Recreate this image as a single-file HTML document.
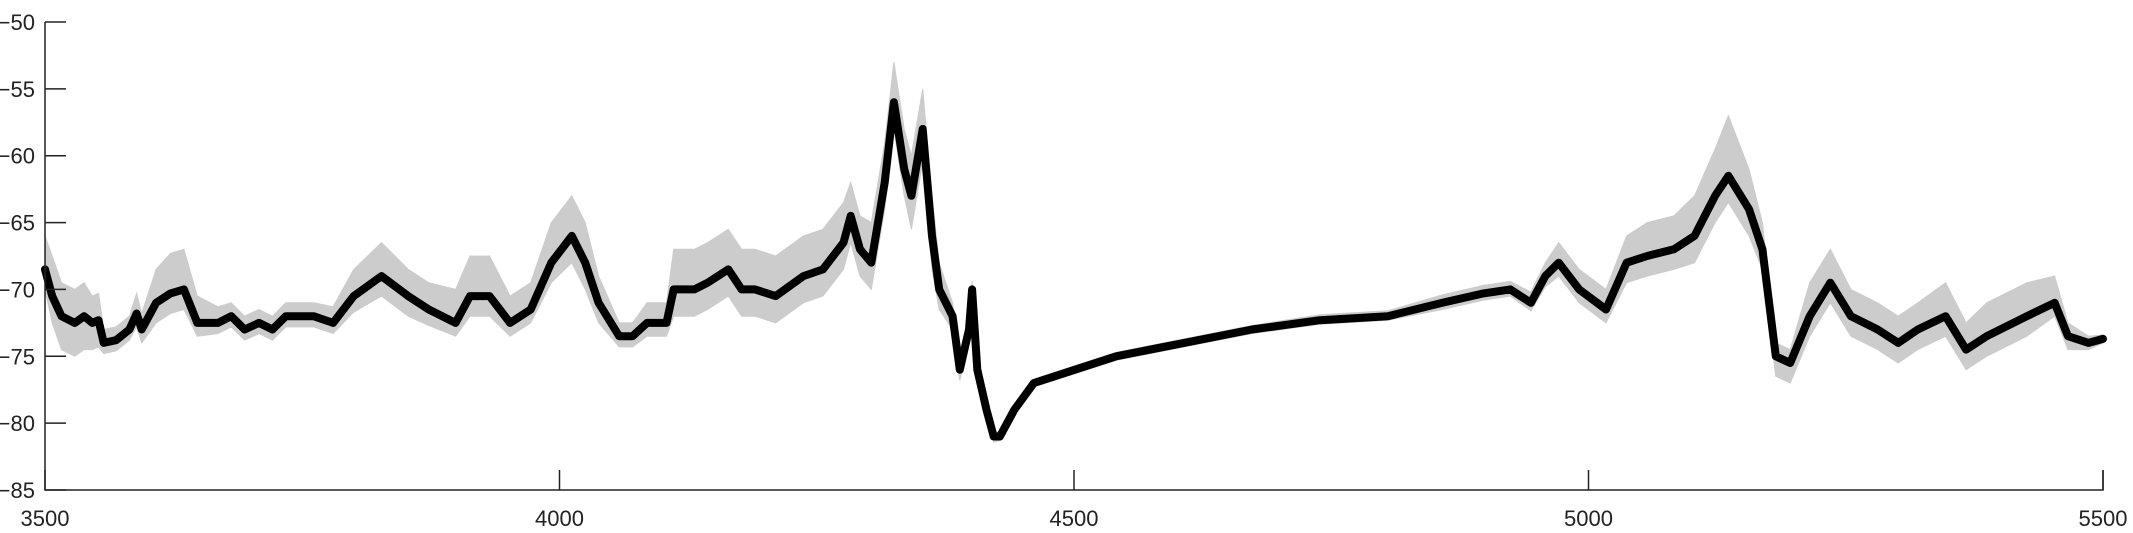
<!DOCTYPE html>
<html><head><meta charset="utf-8"><style>
html,body{margin:0;padding:0;background:#fff;}
svg{display:block;font-family:"Liberation Sans",sans-serif;}
</style></head><body>
<svg id="chart" width="2133" height="533" viewBox="0 0 2133 533">
<g id="band"></g>
<g id="line"></g>
<g id="axes"></g>
</svg>
<script>
const xs=[3500,3507,3516,3529,3538,3546,3552,3557,3569,3582,3589,3594,3608,3622,3635,3648,3668,3681,3694,3708,3721,3734,3761,3780,3800,3827,3853,3873,3899,3913,3932,3952,3972,3992,4012,4025,4038,4058,4071,4085,4104,4111,4131,4144,4164,4177,4190,4210,4237,4256,4276,4283,4292,4303,4316,4325,4335,4342,4353,4362,4369,4382,4389,4398,4401,4406,4415,4422,4428,4442,4461,4501,4541,4607,4673,4739,4805,4858,4898,4924,4944,4958,4971,4991,5017,5037,5057,5083,5103,5123,5136,5156,5169,5182,5196,5215,5235,5255,5281,5301,5320,5347,5367,5387,5426,5453,5466,5486,5500];
const ys=[-68.5,-70.5,-72,-72.5,-72,-72.5,-72.3,-74,-73.8,-73,-71.8,-73,-71,-70.3,-70,-72.5,-72.5,-72,-73,-72.5,-73,-72,-72,-72.5,-70.5,-69,-70.5,-71.5,-72.5,-70.5,-70.5,-72.5,-71.5,-68,-66,-68,-71,-73.5,-73.5,-72.5,-72.5,-70,-70,-69.5,-68.5,-70,-70,-70.5,-69,-68.5,-66.5,-64.5,-67,-68,-62,-56,-61,-63,-58,-66,-70,-72,-76,-73,-70,-76,-79,-81,-81,-79,-77,-76,-75,-74,-73,-72.3,-72,-71,-70.3,-70,-71,-69,-68,-70,-71.5,-68,-67.5,-67,-66,-63,-61.5,-64,-67,-75,-75.5,-72,-69.5,-72,-73,-74,-73,-72,-74.5,-73.5,-72,-71,-73.5,-74,-73.7];
const spreadUp=[2.5,3,2.5,2.5,2.5,2,2,1,1,1,1.5,1.2,2.5,3,3,2,1.2,1,1,1,1,1,1,1.2,2,2.5,2,2,2.5,3,3,2,2,3,3,3,2,1,1,1.5,1.5,3,3,3,3,3,3,3,3,3,3,2.5,2.5,3,3,3,3,3,3,3,2,1,0.8,0.8,0.6,0.6,0.5,0.4,0.3,0.3,0.3,0.3,0.3,0.3,0.3,0.4,0.4,0.6,0.6,0.6,0.8,1,1.5,1.5,1.5,2,2.5,2.5,3,3.5,4.5,3,2,1,1,2.5,2.5,2,2,2,2,2.5,2,2.5,2.5,2,1,0.5,0.3];
const spreadDown=[1.5,2,2.5,2.5,2.5,2,2,0.8,0.8,0.8,1,1,1.5,1.5,1.5,1,0.8,0.8,0.8,0.8,0.8,0.8,0.8,0.8,1.2,1.5,1.5,1.2,1,1.5,1.5,1,1,1.5,2,2,1.5,0.8,0.8,1,1,2,2,2,2,2,2,2,2,2,2,2,2,2,2,2,2,2.5,2.5,2.5,1.5,1,0.8,0.8,0.6,0.6,0.5,0.4,0.3,0.3,0.3,0.3,0.3,0.3,0.3,0.3,0.3,0.5,0.5,0.5,0.6,0.8,1,1,1,1.5,1.5,1.5,2,2,2,2,1.5,1.5,1.5,1.5,1.5,1.5,1.5,1.5,1.5,1.5,1.5,1.5,1.5,1,1,0.5,0.3];
const xTicks=[3500,4000,4500,5000,5500];
const yTicks=[-50,-55,-60,-65,-70,-75,-80,-85];
const NS="http://www.w3.org/2000/svg";
const L=45,R=2103,T=22,B=490;
function sx(v){return L+(v-3500)/2000*(R-L);}
function sy(v){return T+(-50-v)/35*(B-T);}
function mk(tag,attrs,parent){const e=document.createElementNS(NS,tag);for(const k in attrs)e.setAttribute(k,attrs[k]);parent.appendChild(e);return e;}
const band=document.getElementById('band'),line=document.getElementById('line'),axes=document.getElementById('axes');
let up=xs.map((x,i)=>sx(x).toFixed(1)+','+sy(ys[i]+spreadUp[i]).toFixed(1));
let dn=xs.map((x,i)=>sx(x).toFixed(1)+','+sy(ys[i]-spreadDown[i]).toFixed(1)).reverse();
const bp=mk('polygon',{points:up.concat(dn).join(' '),fill:'#cccccc',stroke:'#cccccc','stroke-width':1},band);


const lp=mk('polyline',{points:xs.map((x,i)=>sx(x).toFixed(1)+','+sy(ys[i]).toFixed(1)).join(' '),fill:'none',stroke:'#000','stroke-width':8,'stroke-linejoin':'round','stroke-linecap':'round'},line);


mk('path',{d:`M${L},${T} V${B} H${R} V${B-20}`,fill:'none',stroke:'#222','stroke-width':1.5},axes);
yTicks.forEach(v=>{
  const y=sy(v);
  mk('line',{x1:L,x2:L+21,y1:y,y2:y,stroke:'#222','stroke-width':1.5},axes);
  const t=mk('text',{x:L-10,y:y+8,'text-anchor':'end','font-size':22,fill:'#222'},axes);
  t.textContent=String(v).replace('-','\u2212');
  
  
});
xTicks.forEach(v=>{
  const x=sx(v);
  mk('line',{x1:x,x2:x,y1:B,y2:B-20,stroke:'#222','stroke-width':1.5},axes);
  const t=mk('text',{x:x,y:B+36,'text-anchor':'middle','font-size':22,fill:'#222'},axes);
  t.textContent=v;
  
  
});
</script>
</body></html>
